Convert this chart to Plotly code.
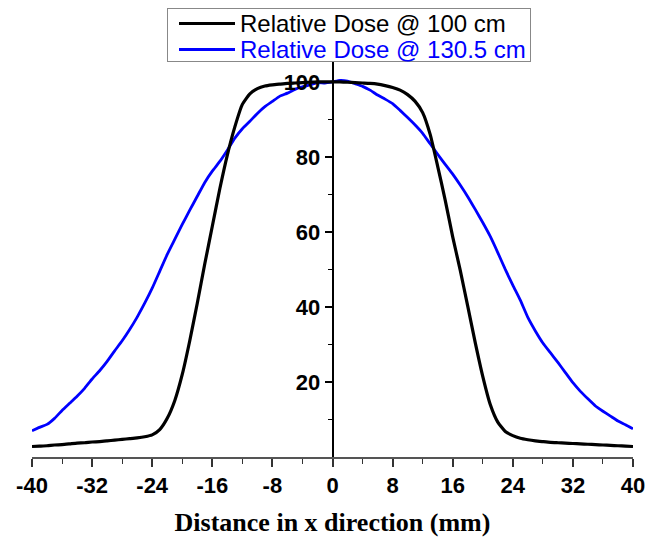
import plotly.graph_objects as go

x_mm = list(range(-40, 41))

dose_100cm = [
    2.8, 2.9, 3.0, 3.2, 3.3, 3.5, 3.7, 3.8, 4.0, 4.1,
    4.3, 4.5, 4.7, 4.9, 5.1, 5.4, 5.9, 7.3, 10.3, 15.0,
    22.0, 31.0, 41.0, 51.5, 61.5, 71.5, 80.5, 88.0, 94.0, 96.8,
    98.2, 98.9, 99.2, 99.4, 99.6, 99.7, 99.8, 99.9, 100.0, 100.0,
    100.0,
    100.0, 99.9, 99.8, 99.7, 99.6, 99.4, 99.0, 98.5, 97.8, 96.6,
    94.8, 91.8, 86.0, 77.5, 68.5, 58.7, 49.8, 40.2, 30.5, 21.5,
    14.0, 9.3, 6.8, 5.7, 5.0, 4.6, 4.3, 4.1, 3.9, 3.8,
    3.7, 3.6, 3.5, 3.4, 3.3, 3.2, 3.1, 3.0, 2.9, 2.8,
]

dose_130cm = [
    7.0, 7.9, 8.7, 10.3, 12.4, 14.3, 16.2, 18.3, 20.8, 23.0,
    25.5, 28.3, 31.0, 34.0, 37.3, 41.0, 45.0, 49.5, 54.0, 58.0,
    62.0, 65.8, 69.5, 73.2, 76.2, 78.8, 81.8, 85.0, 87.5, 89.5,
    91.6, 93.4, 94.8, 96.2, 97.0, 98.0, 98.7, 99.2, 99.8, 99.7,
    100.0,
    100.4, 100.2, 99.5, 98.8, 97.8, 96.5, 95.4, 94.2, 92.4, 90.5,
    88.5, 86.3, 83.5, 80.7, 78.0, 75.4, 72.5, 69.4, 66.0, 62.5,
    58.8, 54.5, 50.0, 45.8, 41.8, 37.2, 33.6, 30.4, 27.8, 25.2,
    22.5, 19.8, 17.5, 15.5, 13.6, 12.2, 10.9, 9.6, 8.6, 7.5,
]

x_ticks = [-40, -32, -24, -16, -8, 0, 8, 16, 24, 32, 40]
x_minor = [-36, -28, -20, -12, -4, 4, 12, 20, 28, 36]
y_ticks = [20, 40, 60, 80, 100]
y_minor = [10, 30, 50, 70, 90]

series_names = ["Relative Dose @ 100 cm", "Relative Dose @ 130.5 cm"]
series_colors = ["#000000", "#0000ff"]

fig = go.Figure()
fig.add_trace(go.Scatter(x=x_mm, y=dose_130cm, mode="lines", name=series_names[1],
                         line=dict(color=series_colors[1], width=2.8, shape="spline", smoothing=0.4)))
fig.add_trace(go.Scatter(x=x_mm, y=dose_100cm, mode="lines", name=series_names[0],
                         line=dict(color=series_colors[0], width=3.2, shape="spline", smoothing=0.5)))

# compact legend box above the plot area, built from annotations (drawn on top of axis lines)
annotations = [dict(xref="paper", yref="paper", x=0.52745, y=1.06835, xanchor="center", yanchor="middle",
                    text=" ", showarrow=False, width=362, height=52,
                    bgcolor="white", bordercolor="#888888", borderwidth=1, borderpad=0,
                    font=dict(size=2))]
row_y = [1.0987, 1.0304]
for name, color, yy in zip(series_names, series_colors, row_y):
    annotations.append(dict(xref="paper", yref="paper", x=0.2912, y=yy, xanchor="center", yanchor="middle",
                            text=" ", showarrow=False, width=56, height=3,
                            bgcolor=color, borderwidth=0, borderpad=0, font=dict(size=1)))
    annotations.append(dict(xref="paper", yref="paper", x=0.3428, y=yy, xanchor="left", yanchor="middle",
                            text=name, showarrow=False,
                            font=dict(family="Liberation Sans, Arial", size=24, color=color)))

fig.update_layout(
    width=647, height=537,
    margin=dict(l=32, r=14, t=62, b=80, autoexpand=False),
    paper_bgcolor="white", plot_bgcolor="white",
    showlegend=False,
    annotations=annotations,
    xaxis=dict(
        range=[-40, 40], domain=[0, 1],
        tickvals=x_ticks, ticktext=[str(v) for v in x_ticks],
        ticks="outside", ticklen=8, tickwidth=1.5, tickcolor="#333",
        minor=dict(tickvals=x_minor, ticks="outside", ticklen=5, tickwidth=1.2, tickcolor="#333"),
        showline=True, linecolor="#555", linewidth=2,
        showgrid=False, zeroline=False,
        tickfont=dict(family="Liberation Sans, Arial", size=22, color="black", weight="bold"),
        title=dict(text="<b>Distance in x direction (mm)</b>",
                   font=dict(family="Liberation Serif, Times New Roman", size=26, color="black"),
                   standoff=16),
    ),
    yaxis=dict(
        range=[0, 105.3],
        anchor="free", position=0.5, side="left",
        tickvals=y_ticks, ticktext=[str(v) for v in y_ticks],
        ticks="outside", ticklen=7, tickwidth=1.5, tickcolor="black",
        minor=dict(tickvals=y_minor, ticks="outside", ticklen=4, tickwidth=1.2, tickcolor="black"),
        showline=True, linecolor="black", linewidth=1.5,
        showgrid=False, zeroline=False,
        tickfont=dict(family="Liberation Sans, Arial", size=22, color="black", weight="bold"),
    ),
)

fig.write_html("out.html", config={"displayModeBar": False},
               post_script="document.body.style.margin='0px';")
